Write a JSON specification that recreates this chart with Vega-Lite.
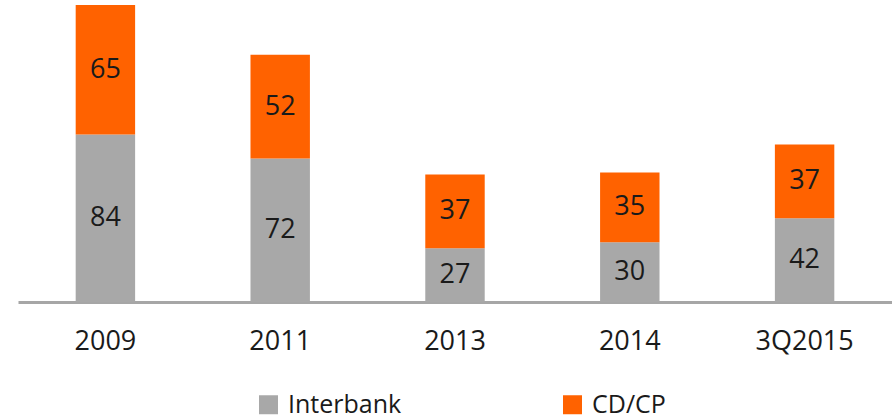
{
  "$schema": "https://vega.github.io/schema/vega-lite/v6.json",
  "width": 874,
  "height": 302,
  "autosize": {"type": "none"},
  "padding": {"left": 18, "top": 0, "right": 0, "bottom": 117},
  "config": {"view": {"stroke": null}, "font": "Open Sans"},
  "data": {"values": [
    {"period": "2009", "series": "Interbank", "value": 84},
    {"period": "2009", "series": "CD/CP", "value": 65},
    {"period": "2011", "series": "Interbank", "value": 72},
    {"period": "2011", "series": "CD/CP", "value": 52},
    {"period": "2013", "series": "Interbank", "value": 27},
    {"period": "2013", "series": "CD/CP", "value": 37},
    {"period": "2014", "series": "Interbank", "value": 30},
    {"period": "2014", "series": "CD/CP", "value": 35},
    {"period": "3Q2015", "series": "Interbank", "value": 42},
    {"period": "3Q2015", "series": "CD/CP", "value": 37}
  ]},
  "transform": [
    {"stack": "value", "groupby": ["period"], "sort": [{"field": "series", "order": "descending"}], "as": ["v0", "v1"]},
    {"calculate": "(datum.v0 + datum.v1) / 2", "as": "mid"}
  ],
  "encoding": {
    "x": {
      "field": "period", "type": "nominal", "sort": null,
      "scale": {"paddingInner": 0.66, "paddingOuter": 0.33},
      "axis": {"title": null, "labelAngle": 0, "ticks": false, "labelFontSize": 27, "labelPadding": 26, "labelColor": "#1a1a1a", "domainColor": "#a6a6a6", "domainWidth": 3}
    }
  },
  "layer": [
    {
      "mark": {"type": "bar"},
      "encoding": {
        "y": {"field": "v0", "type": "quantitative", "scale": {"domain": [0, 151.5], "nice": false}, "axis": null},
        "y2": {"field": "v1"},
        "color": {
          "field": "series", "type": "nominal",
          "scale": {"domain": ["Interbank", "CD/CP"], "range": ["#a8a8a8", "#ff6200"]},
          "legend": {"title": null, "orient": "none", "legendX": 238, "legendY": 392, "direction": "horizontal", "symbolType": "square", "symbolSize": 361, "symbolStrokeWidth": 0, "labelFontSize": 25, "labelColor": "#1a1a1a", "labelOffset": 7, "columnPadding": 158}
        }
      }
    },
    {
      "mark": {"type": "text", "fontSize": 27, "color": "#1a1a1a"},
      "encoding": {
        "y": {"field": "mid", "type": "quantitative"},
        "text": {"field": "value", "type": "quantitative"}
      }
    }
  ]
}
